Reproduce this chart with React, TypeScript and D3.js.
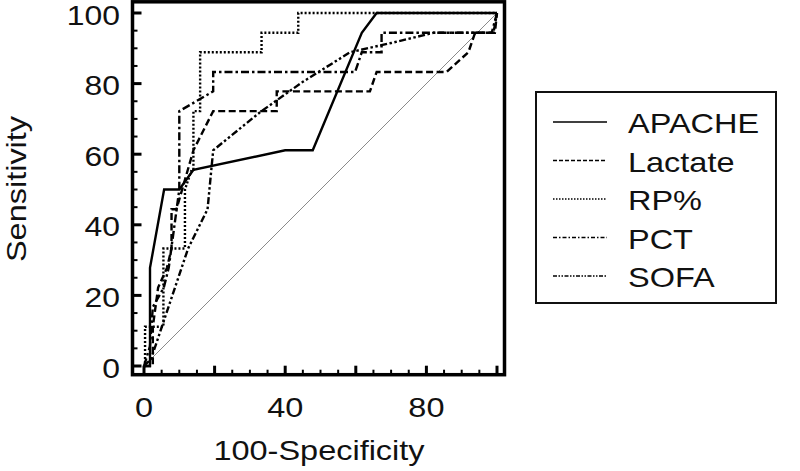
import React from 'react';
import * as d3 from 'd3';

// ROC points [100-specificity, sensitivity]
const apache: [number, number][] = [
  [0, 0], [1.7, 0], [1.7, 27.8], [5.7, 50], [10, 50], [14, 55.6], [40, 61.1], [47.8, 61.1],
  [61.7, 94.4], [65.9, 100], [100, 100],
];
const lactate: [number, number][] = [
  [0, 0], [2.5, 0], [2.5, 11.1], [4, 22.2], [6.5, 27.8], [7.8, 33.3], [7.8, 44.4], [9.2, 44.4],
  [14, 61.1], [19.6, 72.2], [37.6, 72.2], [37.6, 77.8], [64, 77.8], [65.9, 83.3], [85.7, 83.3],
  [91.9, 88.9], [93.8, 94.4], [99.4, 94.4], [100, 100],
];
const rp: [number, number][] = [
  [0, 0], [0.3, 0], [0.3, 11.1], [5.5, 11.1], [5.5, 33.3], [11.6, 33.3], [11.6, 50], [13.5, 55.6],
  [14, 55.6], [14, 72.2], [15.9, 72.2], [15.9, 88.9], [33.3, 88.9], [33.3, 94.4], [43.7, 94.4],
  [43.7, 100], [100, 100],
];
const pct: [number, number][] = [
  [0, 0], [1.7, 5.6], [2.5, 16.7], [5.6, 22.2], [7, 27.8], [8.5, 38.9], [10, 50], [10, 72.2],
  [19.6, 77.8], [19.6, 83.3], [59.8, 83.3], [61.7, 88.9], [67.3, 88.9], [67.3, 94.4], [98.5, 94.4],
  [100, 100],
];
const sofa: [number, number][] = [
  [0, 0], [2, 2], [12.5, 33.3], [18, 44.4], [19.6, 61.1], [33, 72], [45, 80.5], [58.4, 88.9],
  [70, 91.5], [82, 94.4], [99, 94.4], [100, 100],
];

const seriesNames = ['APACHE', 'Lactate', 'RP%', 'PCT', 'SOFA'];
const seriesData = [apache, lactate, rp, pct, sofa];
const dashes = ['', '7,3.5', '2,2', '8,3,2.5,3', '7,2.5,2.5,2.5,2.5,2.5'];
const legendDashes = ['', '4,2', '1.5,1.5', '4,2,1.5,2', '4,1.5,1.5,1.5,1.5,1.5'];

const yTicks = [0, 20, 40, 60, 80, 100];
const xLabels = [0, 40, 80];
const majorTicks = [0, 20, 40, 60, 80, 100];
const minorTicks = d3.range(0, 101, 5).filter(v => v % 20 !== 0);

const SX = 1.16; // the text in the picture is drawn wider than Arial
const font = '"Liberation Sans", Arial, sans-serif';

export default function App() {
  const x = d3.scaleLinear().domain([0, 100]).range([144, 497]);
  const y = d3.scaleLinear().domain([0, 100]).range([366, 13]);
  const line = d3.line<[number, number]>().x(d => x(d[0])).y(d => y(d[1]));

  const frame = { left: 132.5, right: 504.5, top: 1.8, bottom: 374.7 };

  return (
    <svg width={800} height={471} style={{ position: 'absolute', left: 0, top: 0, background: '#fff' }}
      fontFamily={font}>
      {/* diagonal */}
      <line x1={x(0)} y1={y(0)} x2={x(100)} y2={y(100)} stroke="#8a8a8a" strokeWidth={1} />

      {seriesData.map((d, i) => (
        <path key={seriesNames[i]} d={line(d) || ''} fill="none" stroke="#000" strokeWidth={2.4}
          strokeDasharray={dashes[i] || undefined} strokeLinejoin="miter" />
      ))}

      {/* frame */}
      <rect x={frame.left} y={frame.top} width={frame.right - frame.left} height={frame.bottom - frame.top}
        fill="none" stroke="#000" strokeWidth={3.5} />

      {/* x ticks */}
      {majorTicks.map(t => (
        <line key={'xm' + t} x1={x(t)} x2={x(t)} y1={frame.bottom} y2={frame.bottom - 9} stroke="#000" strokeWidth={3} />
      ))}
      {minorTicks.map(t => (
        <line key={'xn' + t} x1={x(t)} x2={x(t)} y1={frame.bottom} y2={frame.bottom - 5} stroke="#000" strokeWidth={2} />
      ))}
      {/* y ticks */}
      {majorTicks.map(t => (
        <line key={'ym' + t} y1={y(t)} y2={y(t)} x1={frame.left} x2={frame.left + 9} stroke="#000" strokeWidth={3} />
      ))}
      {minorTicks.map(t => (
        <line key={'yn' + t} y1={y(t)} y2={y(t)} x1={frame.left} x2={frame.left + 5} stroke="#000" strokeWidth={2} />
      ))}

      {/* tick labels */}
      {yTicks.map(t => (
        <text key={'yl' + t} transform={`translate(120,${y(t) + 11.5}) scale(${SX},1)`} textAnchor="end"
          fontSize={27.5} fill="#111">{t}</text>
      ))}
      {xLabels.map(t => (
        <text key={'xl' + t} transform={`translate(${x(t)},417) scale(${SX},1)`} textAnchor="middle"
          fontSize={28} fill="#111">{t}</text>
      ))}

      {/* axis titles */}
      <text transform={`translate(319,460) scale(${SX},1)`} textAnchor="middle" fontSize={28} fill="#111">100-Specificity</text>
      <text transform={`translate(26,189) rotate(-90) scale(${SX},1)`} textAnchor="middle" fontSize={28} fill="#111">Sensitivity</text>

      {/* legend */}
      <rect x={536} y={92} width={240} height={211} fill="#fff" stroke="#111" strokeWidth={2} />
      {seriesNames.map((n, i) => {
        const by = 133 + i * 38.5;
        return (
          <g key={'lg' + n}>
            <line x1={553} x2={607} y1={by - 11} y2={by - 11} stroke="#000" strokeWidth={1.4}
              strokeDasharray={legendDashes[i] || undefined} />
            <text transform={`translate(628,${by}) scale(${SX},1)`} fontSize={28} fill="#111">{n}</text>
          </g>
        );
      })}
    </svg>
  );
}
